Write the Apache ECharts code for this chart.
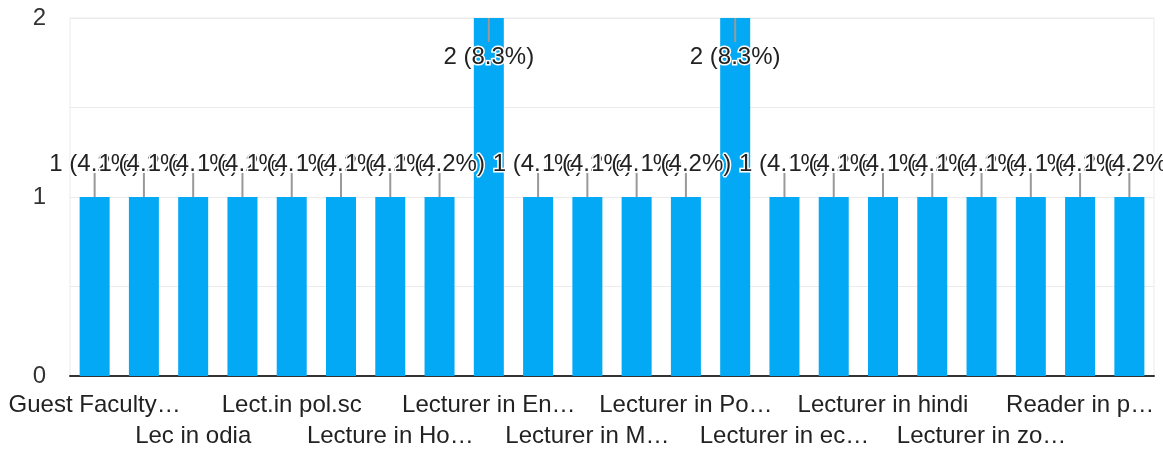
<!DOCTYPE html>
<html>
<head>
<meta charset="utf-8">
<script src="https://cdn.jsdelivr.net/npm/echarts@6/dist/echarts.min.js"></script>
<style>
html,body{margin:0;padding:0;background:#fff;}
#chart{width:1163px;height:451px;}
</style>
</head>
<body>
<div id="chart"></div>
<script>
var categories=['Guest Faculty in Odia','Lec in Zoology','Lec in odia','Lect. in History','Lect.in pol.sc',
  'Lecture in Economics','Lecture in Home Science','Lecturer in Chemistry','Lecturer in English','Lecturer in History',
  'Lecturer in Mathematics','Lecturer in Odia','Lecturer in Political Science','Lecturer in Sanskrit','Lecturer in economics',
  'Lecturer in english','Lecturer in hindi','Lecturer in history','Lecturer in zoology','Principal',
  'Reader in physics','Senior Lecturer'];
var counts=[1,1,1,1,1,1,1,1,2,1,1,1,1,2,1,1,1,1,1,1,1,1];
var percents=[4.2,4.2,4.1,4.2,4.1,4.2,4.2,4.2,8.3,4.1,4.2,4.1,4.2,8.3,4.1,4.2,4.1,4.2,4.2,4.1,4.2,4.2];
var yTicks=[0,1,2];

var FONT="Arial, 'Liberation Sans', sans-serif";
var yMax=yTicks[yTicks.length-1];

var labelData=[];
for(var i=0;i<counts.length;i++){
  labelData.push([i,counts[i],counts[i]+' ('+percents[i].toFixed(1)+'%)']);
}

// google cuts the long names; the last one is held inside the plot
var ctx=document.createElement('canvas').getContext('2d');
ctx.font='24px '+FONT;
function cutName(v,idx){
  var w=idx>=categories.length-2?150:176;
  if(ctx.measureText(v).width<=w) return v;
  var s=v;
  while(s.length>1&&ctx.measureText(s+'…').width>w) s=s.slice(0,-1);
  return s+'…';
}
function xAxisRow(row,offset,showLine){
  return {
    type:'category',
    data:categories,
    position:'bottom',
    offset:offset,
    axisTick:{show:false},
    axisLine:{show:showLine,lineStyle:{color:'#333',width:2}},
    splitLine:{show:false},
    axisLabel:{
      interval:function(idx){ return idx%4==row*2; },
      margin:17,
      color:'#222',
      fontSize:24,
      lineHeight:24,
      fontFamily:FONT,
      formatter:cutName
    }
  };
}

var myChart=echarts.init(document.getElementById('chart'));
var option={
  animation:false,
  grid:{left:70,right:9,top:18,bottom:75,show:true,borderColor:'#ebebeb',borderWidth:1},
  xAxis:[xAxisRow(0,0,true),xAxisRow(1,31,false)],
  yAxis:{
    type:'value',
    min:0,
    max:yMax,
    interval:0.5,
    axisLine:{show:false},
    axisTick:{show:false},
    splitLine:{lineStyle:{color:'#ebebeb',width:1}},
    axisLabel:{
      margin:24,
      color:'#333',
      fontSize:24,
      fontFamily:FONT,
      formatter:function(v){ return yTicks.indexOf(v)>=0?String(v):''; }
    }
  },
  series:[
    {
      type:'bar',
      xAxisIndex:0,
      data:counts,
      barWidth:30,
      itemStyle:{color:'#03a9f4'}
    },
    {
      type:'custom',
      xAxisIndex:0,
      data:labelData,
      clip:false,
      z:5,
      renderItem:function(params,api){
        var v=api.value(1);
        var p=api.coord([api.value(0),v]);
        var inside=v>=yMax;
        var y2=inside?p[1]+24:p[1]-24;
        var ty=inside?p[1]+39:p[1]-33;
        return {
          type:'group',
          children:[
            {type:'line',shape:{x1:p[0],y1:p[1],x2:p[0],y2:y2},style:{stroke:'#999',lineWidth:2}},
            {type:'text',x:p[0],y:ty,style:{
              text:labelData[params.dataIndex][2],
              fill:'#222',
              font:'24px '+FONT,
              align:'center',
              verticalAlign:'middle',
              stroke:'#fff',
              lineWidth:3
            }}
          ]
        };
      }
    }
  ]
};
myChart.setOption(option);
</script>
</body>
</html>
